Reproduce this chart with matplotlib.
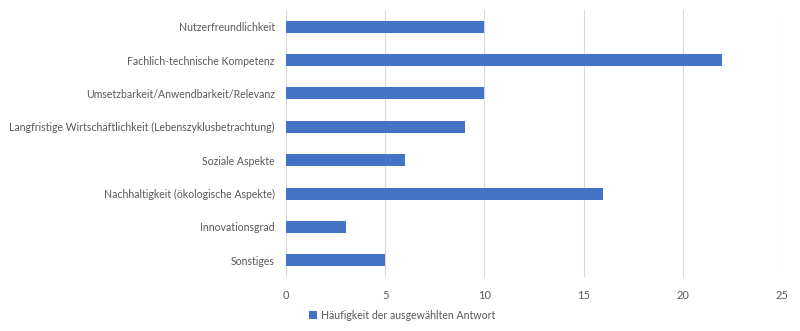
import matplotlib.pyplot as plt
from matplotlib.patches import Patch

categories = [
    "Nutzerfreundlichkeit",
    "Fachlich-technische Kompetenz",
    "Umsetzbarkeit/Anwendbarkeit/Relevanz",
    "Langfristige Wirtschaftlichkeit (Lebenszyklusbetrachtung)",
    "Soziale Aspekte",
    "Nachhaltigkeit (ökologische Aspekte)",
    "Innovationsgrad",
    "Sonstiges",
]
counts = [10, 22, 10, 9, 6, 16, 3, 5]
series_name = "Häufigkeit der ausgewählten Antwort"
x_ticks = [0, 5, 10, 15, 20, 25]

bar_color = "#4472C4"
text_color = "#595959"
grid_color = "#D9D9D9"

plt.rcParams["font.family"] = ["Lato", "DejaVu Sans"]

fig = plt.figure(figsize=(8, 3.31), dpi=100)
ax = fig.add_axes([0.3575, 0.163, 0.62, 0.807])

y = list(range(len(categories)))
ax.barh(y, counts, height=0.36, color=bar_color, zorder=3)
ax.set_ylim(len(categories) - 0.5, -0.5)
ax.set_yticks(y)
ax.set_yticklabels(categories, fontsize=7.6, color=text_color)
ax.set_xlim(0, 25)
ax.set_xticks(x_ticks)
ax.set_xticklabels([str(t) for t in x_ticks], fontsize=8, color=text_color)
ax.tick_params(axis="x", length=0, pad=9)
ax.tick_params(axis="y", length=0, pad=8)
ax.grid(axis="x", color=grid_color, linewidth=0.8, zorder=0)
for s in ax.spines.values():
    s.set_visible(False)

handle = Patch(facecolor=bar_color, edgecolor="none")
fig.legend([handle], [series_name], loc="center", bbox_to_anchor=(0.503, 0.048),
           frameon=False, fontsize=7.6, labelcolor=text_color,
           handlelength=0.7, handleheight=0.7, handletextpad=0.4)

fig.savefig("out.png", dpi=100, facecolor="white")
